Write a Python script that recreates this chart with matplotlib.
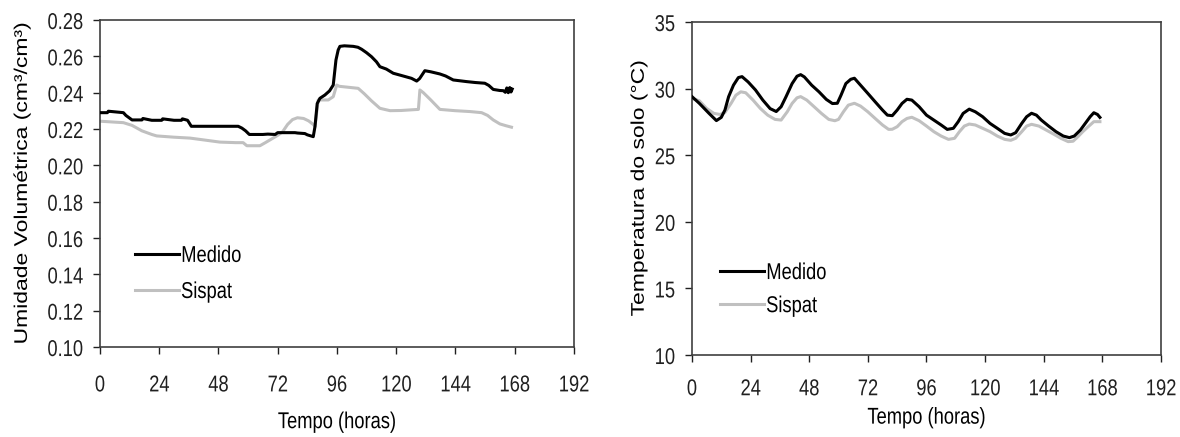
import matplotlib
matplotlib.use("Agg")
import matplotlib.pyplot as plt
from matplotlib.patheffects import AbstractPathEffect
from matplotlib.transforms import Affine2D

# ==========================================================
# DATA
# ==========================================================

# Umidade volumetrica - Medido
t_umid_med = [0, 3, 3.4, 9.5, 10.5, 12, 13, 17, 17.4, 21, 25, 25.4, 30, 33, 33.4, 35.5, 37,
              56, 57.5, 59, 60.5, 66, 68, 71, 72, 79, 80, 83, 84, 86.4, 87.1, 88, 89.1,
              91.1, 93, 94.5, 95.6, 96.5, 97.2, 99, 102.6, 104.5, 106, 108, 110, 112,
              113.4, 116, 118.8, 122, 126.2, 128.3, 129.5, 131.6, 134, 137.7, 140, 143.1,
              148.5, 152, 155.9, 157.5, 159.3, 162, 163.4, 164.2, 164.8, 165.4, 166,
              166.5, 167]
umid_med = [0.229, 0.229, 0.2298, 0.229, 0.2275, 0.226, 0.225, 0.225, 0.2258, 0.2248,
            0.2248, 0.2256, 0.2248, 0.2248, 0.2256, 0.2248, 0.2215,
            0.2215, 0.2205, 0.219, 0.2170, 0.2170, 0.2172, 0.2170, 0.2180, 0.2180,
            0.2178, 0.2175, 0.2168, 0.2158, 0.2213, 0.2340, 0.2369,
            0.2387, 0.2410, 0.2442, 0.2580, 0.2635, 0.2655, 0.2658, 0.2655, 0.2650,
            0.2639, 0.2620, 0.2598, 0.2570, 0.2543, 0.2530, 0.2507, 0.2495, 0.2479,
            0.2464, 0.2478, 0.2521, 0.2515, 0.2503, 0.2492, 0.2470, 0.2461, 0.2456,
            0.2452, 0.2440, 0.2418, 0.2412, 0.2411, 0.2402, 0.2426, 0.2400, 0.2428,
            0.2404, 0.2420]

# Umidade volumetrica - Sispat
t_umid_sis = [0, 9.5, 13, 17, 21, 23, 30, 36.5, 42, 48.6, 55, 58, 59.5, 64.8, 67, 69.5,
              72, 74, 76, 78, 80, 82.5, 84.5, 86.4, 87.1, 88.4, 92.5, 94.5, 95.9, 97,
              104.6, 107, 110, 113.4, 117.5, 122, 129, 129.6, 131, 134, 137.7, 143.8,
              150, 154.6, 157, 159.3, 162, 164.5, 166.7]
umid_sis = [0.2243, 0.2235, 0.2220, 0.2190, 0.2170, 0.2162, 0.2155, 0.2150, 0.2140,
            0.2128, 0.2125, 0.2125, 0.2108, 0.2108, 0.2125, 0.2145,
            0.2165, 0.2185, 0.2225, 0.2252, 0.2262, 0.2258, 0.2245, 0.2225, 0.2213,
            0.2360, 0.2360, 0.2378, 0.2442, 0.2435,
            0.2424, 0.2395, 0.2355, 0.2314, 0.2301, 0.2302, 0.2308, 0.2415, 0.2400,
            0.2360, 0.2308, 0.2301, 0.2296, 0.2290, 0.2275, 0.2250, 0.2228, 0.2218, 0.2210]

# Temperatura do solo - Medido
t_temp_med = [0, 3, 7, 10, 12, 13.5, 15, 17, 19, 20.5, 23, 26, 29, 32, 34.5, 36.5, 38.5,
              41, 43, 44.5, 46, 49, 52, 55, 57.5, 59.5, 61, 63, 65, 66.5, 69, 72, 75,
              78, 80, 82, 84, 86, 88, 90, 93, 96, 99, 102, 104.5, 107, 109, 111, 113.5,
              116, 119, 122, 125, 128, 130.5, 132.5, 135, 137, 139, 141, 143, 146, 149,
              152, 154.5, 156.5, 159, 161, 163, 164.5, 166, 167]
temp_med = [29.4, 28.9, 28.14, 27.6, 27.84, 28.39, 29.39, 30.26, 30.83, 30.9, 30.5, 29.9,
            29.14, 28.5, 28.28, 28.64, 29.39, 30.38, 30.93, 31.05, 30.88, 30.26, 29.76,
            29.19, 28.88, 28.9, 29.5, 30.38, 30.7, 30.78, 30.26, 29.64, 29.01, 28.39,
            28.01, 27.97, 28.39, 28.89, 29.2, 29.14, 28.64, 28.01, 27.64, 27.27, 26.94,
            27.02, 27.52, 28.14, 28.46, 28.26, 27.89, 27.39, 27.02, 26.64, 26.52, 26.69,
            27.39, 27.89, 28.15, 28.01, 27.64, 27.19, 26.77, 26.44, 26.32, 26.44, 26.89,
            27.39, 27.89, 28.19, 28.06, 27.84]

# Temperatura do solo - Sispat
t_temp_sis = [0, 3, 6, 9, 11.5, 13.5, 16, 18, 20, 22, 25, 28, 31, 34, 36.5, 39, 41, 43,
              44.5, 47, 50, 53, 56, 58.5, 60, 62, 64, 66.5, 69, 72, 75, 78, 80.5, 82,
              84, 86, 88, 90, 93, 96, 99, 102, 105, 107.5, 109.5, 111.5, 113.5, 116, 119,
              122, 125, 128, 130.5, 132.5, 135, 137, 139, 142, 145, 148, 151, 154, 156,
              158, 160, 162.5, 164.5, 167]
temp_sis = [29.26, 29.09, 28.51, 28.14, 28.06, 28.21, 28.89, 29.51, 29.76, 29.69, 29.14,
            28.51, 28.01, 27.69, 27.64, 28.26, 28.89, 29.31, 29.4, 29.14, 28.64, 28.14,
            27.69, 27.59, 27.69, 28.26, 28.76, 28.9, 28.69, 28.26, 27.76, 27.27, 26.94,
            26.95, 27.14, 27.52, 27.76, 27.85, 27.59, 27.19, 26.77, 26.44, 26.19, 26.27,
            26.77, 27.19, 27.34, 27.27, 27.02, 26.77, 26.44, 26.19, 26.12, 26.27, 26.77,
            27.19, 27.32, 27.19, 26.89, 26.59, 26.27, 26.02, 26.05, 26.39, 26.77, 27.19,
            27.52, 27.52]

x_ticks = [0, 24, 48, 72, 96, 120, 144, 168, 192]
umid_ticks = [0.10, 0.12, 0.14, 0.16, 0.18, 0.20, 0.22, 0.24, 0.26, 0.28]
temp_ticks = [10, 15, 20, 25, 30, 35]

# ==========================================================
# STYLE
# ==========================================================

plt.rcParams["font.family"] = ["Liberation Sans", "DejaVu Sans"]
FS = 16.5
SQ = 0.8          # horizontal squeeze of the (narrow looking) text
black = "#000000"
grey = "#c0c0c0"


class Squeeze(AbstractPathEffect):
    # draws the text path narrower, keeping one edge (or centre) in place
    def __init__(self, sx=SQ, anchor="center"):
        super().__init__()
        self.sx = sx
        self.anchor = anchor

    def draw_path(self, renderer, gc, tpath, affine, rgbFace=None):
        ext = tpath.get_extents(affine)
        if self.anchor == "right":
            x0 = ext.x1
        elif self.anchor == "left":
            x0 = ext.x0
        else:
            x0 = 0.5 * (ext.x0 + ext.x1)
        sq = Affine2D().translate(-x0, 0).scale(self.sx, 1).translate(x0, 0)
        renderer.draw_path(gc, tpath, affine + sq, rgbFace)


def style_axes(ax, xpad):
    for side in ["left", "bottom", "top", "right"]:
        ax.spines[side].set_color("#404040")
        ax.spines[side].set_linewidth(1.2)
    ax.tick_params(direction="out", length=5, width=1.0, colors="#202020",
                   labelsize=FS)
    ax.tick_params(axis="x", pad=xpad)
    ax.tick_params(axis="y", pad=7)
    for lab in ax.get_xticklabels():
        lab.set_path_effects([Squeeze(anchor="center")])
    for lab in ax.get_yticklabels():
        lab.set_path_effects([Squeeze(anchor="right")])


def add_legend(ax, anchor, spacing):
    leg = ax.legend(loc="center left", bbox_to_anchor=anchor, frameon=False,
                    fontsize=FS, handlelength=1.9, handletextpad=0.1,
                    labelspacing=spacing, borderpad=0, borderaxespad=0)
    for txt in leg.get_texts():
        txt.set_path_effects([Squeeze(anchor="left")])


fig = plt.figure(figsize=(11.8, 4.37), dpi=100)

# ==========================================================
# LEFT PANEL - UMIDADE
# ==========================================================

ax1 = fig.add_axes([0.0847, 0.2059, 0.4017, 0.7483])
ax1.plot(t_umid_med, umid_med, color=black, lw=2.2, label="Medido", zorder=3)
ax1.plot(t_umid_sis, umid_sis, color=grey, lw=2.2, label="Sispat", zorder=2)
ax1.set_xlim(0, 192)
ax1.set_ylim(0.10, 0.28)
ax1.set_xticks(x_ticks)
ax1.set_yticks(umid_ticks)
ax1.set_yticklabels(["%.2f" % v for v in umid_ticks])
style_axes(ax1, 14)

xl = ax1.set_xlabel("Tempo (horas)", fontsize=FS)
xl.set_path_effects([Squeeze()])
ax1.xaxis.set_label_coords(0.5, -0.193)
yl = ax1.set_ylabel("Umidade Volumétrica (cm³/cm³)", fontsize=FS)
yl.set_path_effects([Squeeze()])
ax1.yaxis.set_label_coords(-0.141, 0.5)

add_legend(ax1, (0.074, 0.225), 0.57)

# ==========================================================
# RIGHT PANEL - TEMPERATURA
# ==========================================================

ax2 = fig.add_axes([0.5864, 0.1876, 0.3975, 0.762])
ax2.plot(t_temp_med, temp_med, color=black, lw=2.2, label="Medido", zorder=3)
ax2.plot(t_temp_sis, temp_sis, color=grey, lw=2.2, label="Sispat", zorder=2)
ax2.set_xlim(0, 192)
ax2.set_ylim(10, 35)
ax2.set_xticks(x_ticks)
ax2.set_yticks(temp_ticks)
style_axes(ax2, 11)

xl = ax2.set_xlabel("Tempo (horas)", fontsize=FS)
xl.set_path_effects([Squeeze()])
ax2.xaxis.set_label_coords(0.5, -0.152)
yl = ax2.set_ylabel("Temperatura do solo (°C)", fontsize=FS)
yl.set_path_effects([Squeeze()])
ax2.yaxis.set_label_coords(-0.0896, 0.5)

add_legend(ax2, (0.06, 0.198), 0.44)

fig.savefig("out.png", dpi=100)
